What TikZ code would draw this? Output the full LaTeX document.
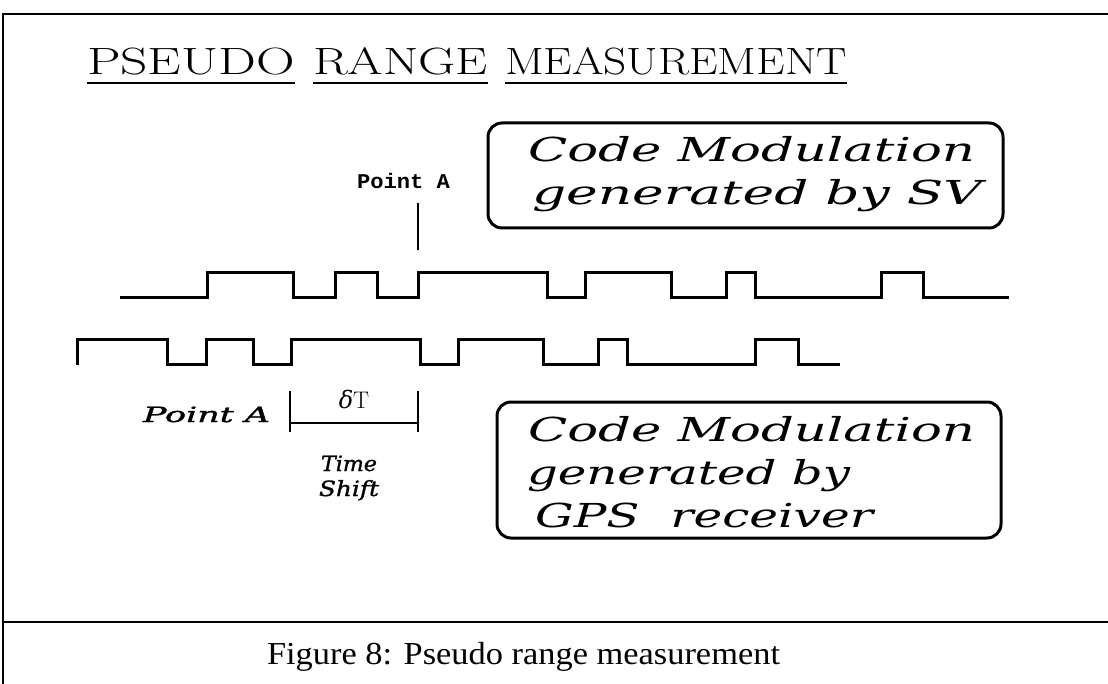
\documentclass[tikz,border=0pt]{standalone}
\usepackage{fontspec}
\usepackage{graphicx}
\newfontfamily\boxserif{DejaVu Serif}
\newfontfamily\labserif[FakeBold=1.2]{DejaVu Serif}
\newfontfamily\capserif{Liberation Serif}
\newfontfamily\typew{Liberation Mono}
% stretch a piece of text to a given width, keeping its height
\newcommand\wfit[2]{\resizebox{#1}{\height}{#2}}

\tikzset{
  every node/.style={inner sep=0pt, outer sep=0pt},
  wave/.style={line width=3pt, line join=miter, line cap=butt},
  frame/.style={line width=2pt},
  labelbox/.style={draw, line width=3pt, rounded corners=14pt, anchor=north west},
  titletext/.style={anchor=base west, font=\fontsize{38}{38}\selectfont},
  uline/.style={line width=2.5pt},
  boxtext/.style={anchor=base west, font=\boxserif\itshape\fontsize{33}{33}\selectfont},
  smalltext/.style={font=\labserif\itshape\fontsize{21}{21}\selectfont},
  marker/.style={line width=2.5pt},
}

\begin{document}
\begin{tikzpicture}[x=1pt,y=-1pt]
\useasboundingbox (0,0) rectangle (1108,684);
\fill[white] (0,0) rectangle (1108,684);

% page frame and caption rule
\draw[frame] (3,684) -- (3,14) -- (1108,14);
\draw[frame] (3,622) -- (1108,622);

% title, each word underlined
\node[titletext] (t1) at (87,75)  {\wfit{208pt}{PSEUDO}};
\node[titletext] (t2) at (313,75) {\wfit{175pt}{RANGE}};
\node[titletext] (t3) at (505,75) {\wfit{342pt}{MEASUREMENT}};
\foreach \w in {t1,t2,t3}
  \draw[uline] ([yshift=-8pt]\w.base west) -- ([yshift=-8pt]\w.base east);

% satellite code label
\node[labelbox, minimum width=515pt, minimum height=105pt] (svbox) at (488,123) {};
\node[boxtext] (sv1) at (528,162) {\wfit{447pt}{Code Modulation}};
\node[boxtext] (sv2) at (532,205) {\wfit{450pt}{generated by SV}};

% receiver code label
\node[labelbox, minimum width=504pt, minimum height=136pt] (rxbox) at (497,402) {};
\node[boxtext] (rx1) at (528,441) {\wfit{447pt}{Code Modulation}};
\node[boxtext] (rx2) at (527,484) {\wfit{323pt}{generated by}};
\node[boxtext] (rx3) at (535,527) {\wfit{338pt}{GPS\ \ receiver}};

% point A on the satellite code
\node[anchor=base west] (pa) at (357,189) {\typew\bfseries\fontsize{21}{21}\selectfont\wfit{93pt}{Point A}};
\coordinate (pa1) at (418,203);
\coordinate (pa2) at (418,250);
\draw[marker] (pa1) -- (pa2);

% code from the satellite
\draw[wave] (120,298) -- (207,298) -- (207,273) -- (293,273) -- (293,298)
  -- (335,298) -- (335,273) -- (377,273) -- (377,298) -- (418,298)
  -- (418,273) -- (547,273) -- (547,298) -- (585,298) -- (585,273)
  -- (671,273) -- (671,298) -- (726,298) -- (726,273) -- (755,273)
  -- (755,298) -- (881,298) -- (881,273) -- (923,273) -- (923,298)
  -- (1009,298);

% code from the receiver
\draw[wave] (77,365) -- (77,340) -- (167,340) -- (167,365) -- (206,365)
  -- (206,340) -- (253,340) -- (253,365) -- (291,365) -- (291,340)
  -- (420,340) -- (420,365) -- (458,365) -- (458,340) -- (543,340)
  -- (543,365) -- (598,365) -- (598,340) -- (627,340) -- (627,365)
  -- (755,365) -- (755,340) -- (798,340) -- (798,365) -- (840,365);

% time shift between the two point A
\node[smalltext, anchor=base west] (pb) at (143,422) {\wfit{127pt}{Point A}};
\coordinate (dl1) at (290,391);
\coordinate (dl2) at (290,432);
\coordinate (dr1) at (418,391);
\coordinate (dr2) at (418,432);
\coordinate (hl) at (290,423);
\coordinate (hr) at (418,423);
\draw[marker] (dl1) -- (dl2);
\draw[marker] (dr1) -- (dr2);
\draw[marker] (hl) -- (hr);
\node[anchor=base] (dt) at (354,408) {\fontsize{24}{24}\selectfont{\boxserif\itshape δ}T};
\node[smalltext, anchor=base] (ts1) at (349,471) {\wfit{56pt}{Time}};
\node[smalltext, anchor=base] (ts2) at (349,496) {\wfit{60pt}{Shift}};

% caption
\node[anchor=base west] (cap) at (267,664)
  {\capserif\fontsize{32}{32}\selectfont\wfit{513pt}{Figure 8: Pseudo range measurement}};
\end{tikzpicture}
\end{document}
